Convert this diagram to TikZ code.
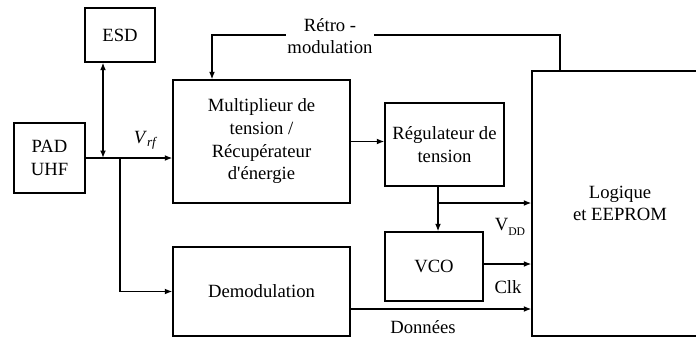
\documentclass[tikz,border=0pt]{standalone}
\usepackage{fontspec}
\setmainfont{Liberation Serif}
\usetikzlibrary{arrows.meta}

\begin{document}
\begin{tikzpicture}[x=0.6pt,y=-0.6pt,line width=0.8pt,
        box/.style={draw,align=center,inner sep=1pt},
        arr/.style={-{Latex[length=4.5pt,width=3.5pt]}},
        dbl/.style={{Latex[length=4.5pt,width=3.5pt]}-{Latex[length=4.5pt,width=3.5pt]}},
        lbl/.style={inner sep=1pt}]
        \fontsize{11.2}{13.6}\selectfont
        \useasboundingbox (0,0) rectangle (696,340);
        \clip (0,0) rectangle (696,340);
        % blocs
        \node[box,minimum width=42pt,minimum height=32.4pt] (esd) at (120,35) {ESD};
        \node[box,minimum width=42.6pt,minimum height=42pt] (pad) at (49.5,158) {PAD\\UHF};
        \node[box,minimum width=106.2pt,minimum height=73.8pt] (mult) at (261.5,141.5) {Multiplieur de\\tension /\\Récupérateur\\d\textquotesingle énergie};
        \node[box,minimum width=71.4pt,minimum height=49.8pt] (reg) at (444.5,144.5) {Régulateur de\\tension};
        \node[box,minimum width=58.8pt,minimum height=41.4pt] (vco) at (434,266.5) {VCO};
        \node[box,minimum width=106.2pt,minimum height=53.4pt] (demod) at (261.5,291.5) {Demodulation};
        \node[box,minimum width=105.6pt,minimum height=159pt] (logic) at (620,203.5) {Logique\\et EEPROM};
        % points de jonction
        \coordinate (jesd) at (103,158);
        \coordinate (jdem) at (120,158);
        \coordinate (jvdd) at (438,203);
        \coordinate (rdroite) at (560,35);
        \coordinate (rgauche) at (212,35);
        % liaisons
        \draw[arr] (pad.east) -- (pad.east -| mult.west);
        \draw[dbl] (jesd |- esd.south) -- (jesd);
        \draw[arr] (jdem) |- (demod.west);
        \draw[arr] (mult.east) -- (mult.east -| reg.west);
        \draw[arr] (jvdd |- reg.south) -- (jvdd |- vco.north);
        \draw[arr] (jvdd) -- (jvdd -| logic.west);
        \draw[arr] ([yshift=1.5pt]vco.east) -- ([yshift=1.5pt]vco.east -| logic.west);
        \draw[arr] ([yshift=-10.5pt]demod.east) -- ([yshift=-10.5pt]demod.east -| logic.west);
        \draw[arr] (rdroite |- logic.north) -- (rdroite) -- (rgauche) -- (rgauche |- mult.north);
        % etiquettes
        \node[lbl,fill=white,align=center] (retro) at (330,36) {Rétro -\\modulation};
        \node[lbl] (vrf) at (146,140) {\textit{V}\textsubscript{\textit{rf}}};
        \node[lbl] (vdd) at (510,227) {V\raisebox{-0.6ex}{\scriptsize DD}};
        \node[lbl] (clk) at (508,287) {Clk};
        \node[lbl] (donnees) at (423,327) {Données};
\end{tikzpicture}
\end{document}
